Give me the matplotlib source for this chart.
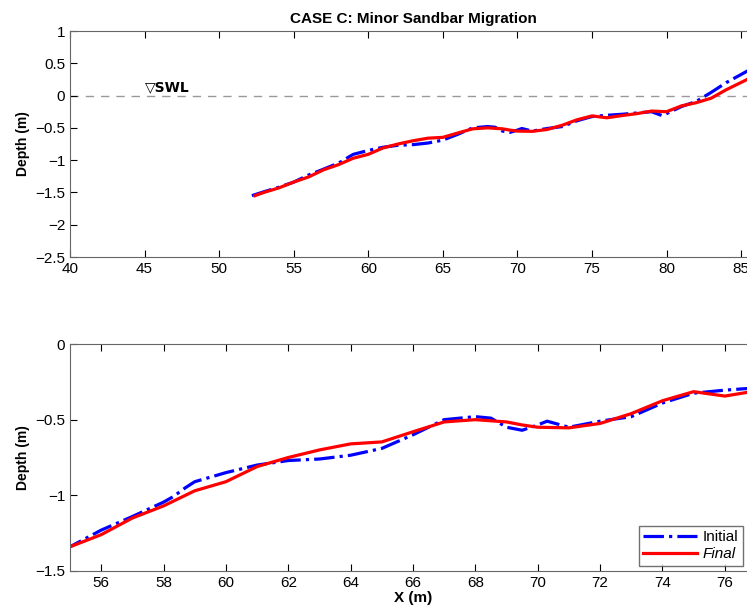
import matplotlib.pyplot as plt
from matplotlib.ticker import FuncFormatter

plt.rcParams['font.family'] = ['Liberation Sans', 'DejaVu Sans']

# cross-shore profile
x_init = [52.2, 53, 54, 55, 56, 57, 58, 58.3, 58.7, 59, 60, 61, 62, 63, 64, 65, 66, 67, 68,
          68.5, 69, 69.5, 70, 70.3, 71, 72, 73, 74, 75, 76, 77, 78, 79, 79.7, 80, 81, 82,
          83, 84, 85.5]
z_init = [-1.55, -1.49, -1.42, -1.34, -1.23, -1.14, -1.045, -1.01, -0.95, -0.91, -0.85, -0.80,
          -0.77, -0.76, -0.735, -0.69, -0.60, -0.50, -0.48, -0.49, -0.55, -0.57, -0.535, -0.51,
          -0.55, -0.51, -0.48, -0.39, -0.325, -0.305, -0.29, -0.27, -0.25, -0.31, -0.28, -0.17,
          -0.09, 0.05, 0.20, 0.39]

x_final = [52.4, 53, 54, 55, 56, 57, 58, 59, 60, 61, 62, 63, 64, 65, 66, 67, 68, 69, 69.5,
           70, 71, 72, 73, 74, 75, 76, 77, 78, 79, 80, 81, 82, 83, 84, 85.5]
z_final = [-1.55, -1.50, -1.43, -1.34, -1.26, -1.15, -1.07, -0.97, -0.91, -0.81, -0.75, -0.70,
           -0.66, -0.647, -0.58, -0.515, -0.50, -0.515, -0.535, -0.55, -0.554, -0.525, -0.46,
           -0.375, -0.315, -0.344, -0.31, -0.28, -0.24, -0.25, -0.16, -0.11, -0.04, 0.09, 0.26]

fig = plt.figure(figsize=(7.47, 6.15), dpi=100)

# axes run a bit past the right edge like in the original (cropped) figure
ax1 = fig.add_axes([70 / 747, 1 - 257 / 615, 686 / 747, 226 / 615])
ax2 = fig.add_axes([70 / 747, 1 - 571 / 615, 686 / 747, 227 / 615])

fmt = FuncFormatter(lambda v, p: ('%g' % v).replace('-', '\u2212'))

for ax in (ax1, ax2):
    ax.plot(x_init, z_init, color='blue', ls='-.', lw=2.3, label='Initial')
    ax.plot(x_final, z_final, color='red', ls='-', lw=2.3, label='Final')
    ax.tick_params(direction='in', top=True, right=True, labelsize=11, length=5)
    ax.yaxis.set_major_formatter(fmt)
    for s in ax.spines.values():
        s.set_color('0.4')
    ax.set_ylabel('Depth (m)', fontweight='bold', fontsize=10)

ax1.axhline(0, color='0.6', ls='--', lw=1, dashes=(6, 5), zorder=0)
ax1.text(45, 0.02, '\u25bdSWL', fontsize=10, fontweight='bold', ha='left', va='bottom',
         family=['DejaVu Sans'])
ax1.set_xlim(40, 86)
ax1.set_ylim(-2.5, 1)
ax1.set_xticks(range(40, 86, 5))
ax1.set_yticks([1, 0.5, 0, -0.5, -1, -1.5, -2, -2.5])
ax1.set_title('CASE C: Minor Sandbar Migration', fontweight='bold', fontsize=11)

ax2.set_xlim(55, 77)
ax2.set_ylim(-1.5, 0)
ax2.set_xticks(range(56, 77, 2))
ax2.set_yticks([0, -0.5, -1, -1.5])
ax2.set_xlabel('X (m)', fontweight='bold', fontsize=11, labelpad=1)

leg = ax2.legend(loc='lower right', bbox_to_anchor=(743 / 747, 1 - 566 / 615),
                 bbox_transform=fig.transFigure, borderaxespad=0, fontsize=11,
                 fancybox=False, handlelength=3.5, handletextpad=0.4, borderpad=0.3,
                 labelspacing=0.2)
leg.get_frame().set_edgecolor('0.3')
leg.get_texts()[1].set_style('italic')

fig.savefig('out.png', dpi=100)
